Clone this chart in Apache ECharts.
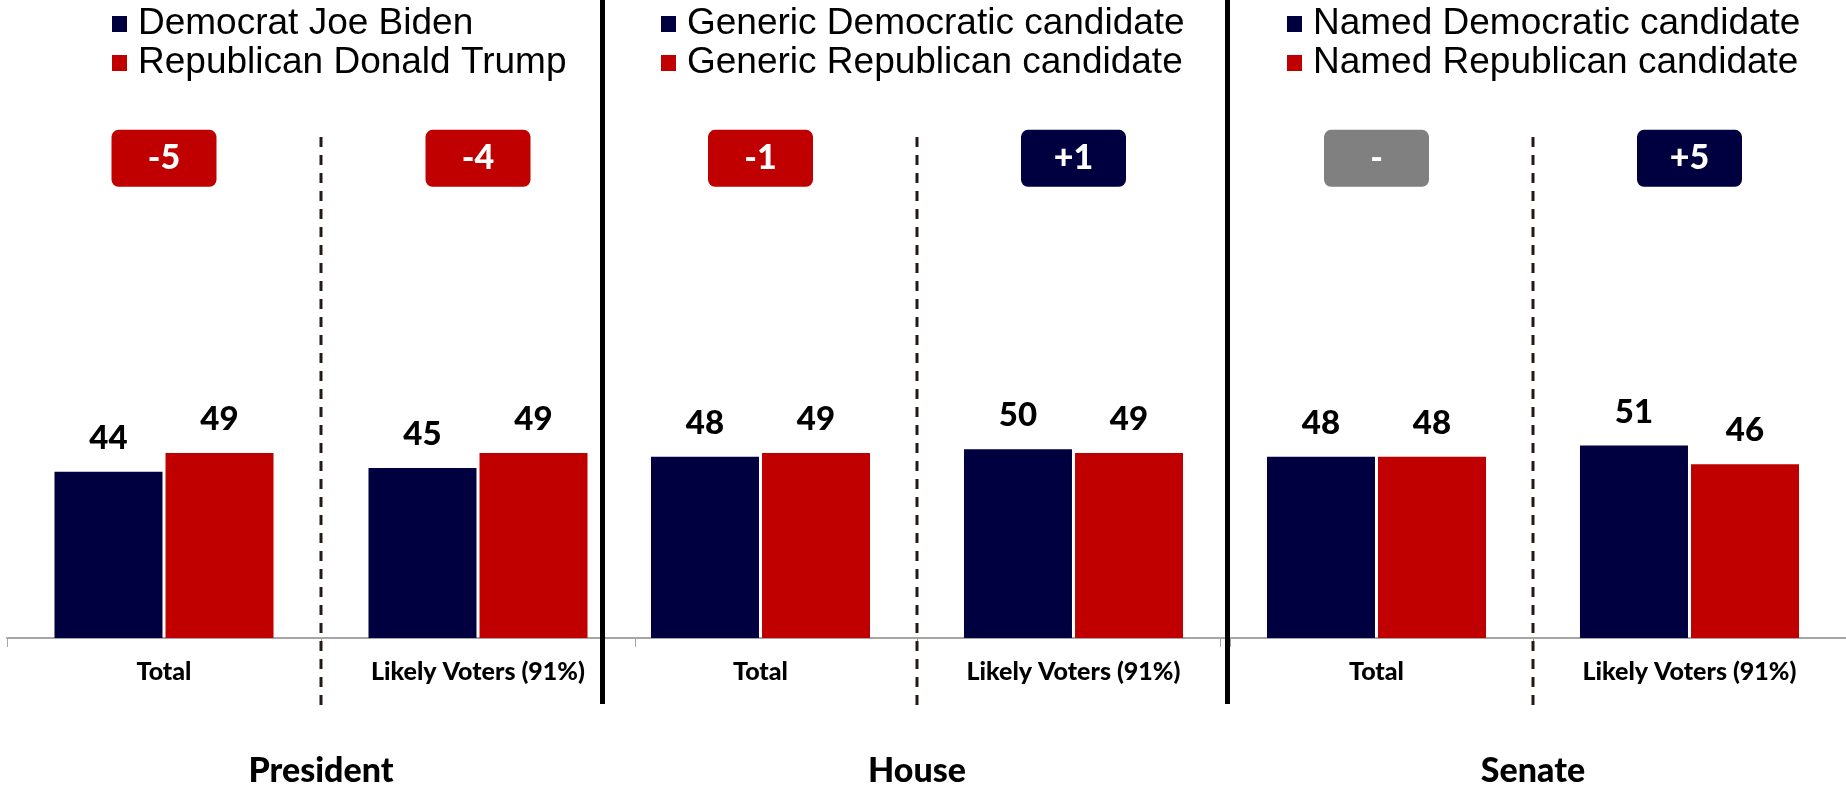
<!DOCTYPE html>
<html>
<head>
<meta charset="utf-8">
<title>Election ballot tests</title>
<script src="https://cdn.jsdelivr.net/npm/echarts@6/dist/echarts.min.js"></script>
<style>
  html, body { margin: 0; padding: 0; background: #fff; }
  #main { width: 1846px; height: 789px; }
</style>
</head>
<body>
<div id="main"></div>
<script>
// data
var groups = ['President', 'House', 'Senate'];
var categories = ['Total', 'Likely Voters (91%)'];
var demNames = ['Democrat Joe Biden', 'Generic Democratic candidate', 'Named Democratic candidate'];
var repNames = ['Republican Donald Trump', 'Generic Republican candidate', 'Named Republican candidate'];
var demValues = [[44, 45], [48, 50], [48, 51]];
var repValues = [[49, 49], [49, 49], [48, 46]];

// layout
var DEM_COLOR = '#000040';
var REP_COLOR = '#C00000';
var TIE_COLOR = '#808080';
var gridBoxes = [
  { left: 7, width: 628 },
  { left: 604, width: 626 },
  { left: 1220, width: 626 }
];
var legendLeft = [112, 661, 1287];
var Y_MAX = 130;
var BOX_LEVEL = 127; // height (axis units) where the margin boxes sit
// rounded box with a small corner radius, drawn at 105x57
var BOX_PATH = 'path://M7,0H98A7,7 0 0 1 105,7V50A7,7 0 0 1 98,57H7A7,7 0 0 1 0,50V7A7,7 0 0 1 7,0Z';

var myChart = echarts.init(document.getElementById('main'));

var grid = [], xAxis = [], yAxis = [], legend = [], title = [], series = [], graphic = [];

groups.forEach(function (g, i) {
  var gb = gridBoxes[i];
  var mid = gb.left + gb.width / 2;
  grid.push({ left: gb.left, width: gb.width, top: 147, bottom: 151 });
  xAxis.push({
    type: 'category',
    gridIndex: i,
    data: categories,
    axisLine: { lineStyle: { color: '#A6A6A6', width: 2 } },
    axisTick: { show: true, length: 9, lineStyle: { color: '#A6A6A6', width: 1 } },
    axisLabel: {
      interval: 0,
      margin: 21,
      color: '#000',
      fontFamily: 'Lato',
      fontWeight: 900,
      fontSize: 25
    }
  });
  yAxis.push({ type: 'value', gridIndex: i, min: 0, max: Y_MAX, show: false, splitLine: { show: false } });
  legend.push({
    orient: 'vertical',
    left: legendLeft[i],
    top: 5,
    padding: 0,
    itemWidth: 15,
    itemHeight: 16,
    itemGap: 1,
    icon: 'rect',
    selectedMode: false,
    data: [demNames[i], repNames[i]],
    textStyle: {
      fontFamily: 'Liberation Sans',
      fontSize: 37,
      lineHeight: 38,
      color: '#000',
      padding: [0, 0, 0, 6]
    }
  });
  title.push({
    text: g,
    left: mid,
    top: 754,
    textAlign: 'center',
    padding: 0,
    textStyle: { fontFamily: 'Lato', fontWeight: 900, fontSize: 34, color: '#000' }
  });

  var barLabel = {
    show: true,
    position: 'top',
    distance: 17,
    color: '#000',
    fontFamily: 'Lato',
    fontWeight: 900,
    fontSize: 33
  };
  series.push({
    name: demNames[i],
    type: 'bar',
    xAxisIndex: i,
    yAxisIndex: i,
    data: demValues[i],
    barWidth: 108,
    barGap: '2.8%',
    itemStyle: { color: DEM_COLOR },
    label: barLabel
  });
  series.push({
    name: repNames[i],
    type: 'bar',
    xAxisIndex: i,
    yAxisIndex: i,
    data: repValues[i],
    barWidth: 108,
    barGap: '2.8%',
    itemStyle: { color: REP_COLOR },
    label: barLabel
  });

  // margin boxes (dem minus rep)
  series.push({
    type: 'scatter',
    xAxisIndex: i,
    yAxisIndex: i,
    clip: false,
    silent: true,
    symbol: BOX_PATH,
    symbolSize: [105, 57],
    data: categories.map(function (c, j) {
      var d = demValues[i][j] - repValues[i][j];
      return {
        value: [j, BOX_LEVEL],
        diff: d,
        itemStyle: { color: d > 0 ? DEM_COLOR : (d < 0 ? REP_COLOR : TIE_COLOR), opacity: 1 }
      };
    }),
    label: {
      show: true,
      position: 'inside',
      color: '#fff',
      fontFamily: 'Lato',
      fontWeight: 900,
      fontSize: 34,
      formatter: function (p) {
        var d = p.data.diff;
        return d > 0 ? '+' + d : (d < 0 ? String(d) : '-');
      }
    }
  });

  // dashed divider between the two categories
  graphic.push({
    type: 'line',
    shape: { x1: mid, y1: 137, x2: mid, y2: 707 },
    style: { stroke: '#231A15', lineWidth: 3, lineDash: [10, 8] },
    z: 10
  });
});

// solid dividers between panels
[602.5, 1227.5].forEach(function (x) {
  graphic.push({
    type: 'line',
    shape: { x1: x, y1: 0, x2: x, y2: 704 },
    style: { stroke: '#000', lineWidth: 5 },
    z: 10
  });
});

myChart.setOption({
  animation: false,
  backgroundColor: '#fff',
  title: title,
  legend: legend,
  grid: grid,
  xAxis: xAxis,
  yAxis: yAxis,
  series: series,
  graphic: graphic
});

window.addEventListener('resize', function () {
  myChart.resize();
});
</script>
</body>
</html>
